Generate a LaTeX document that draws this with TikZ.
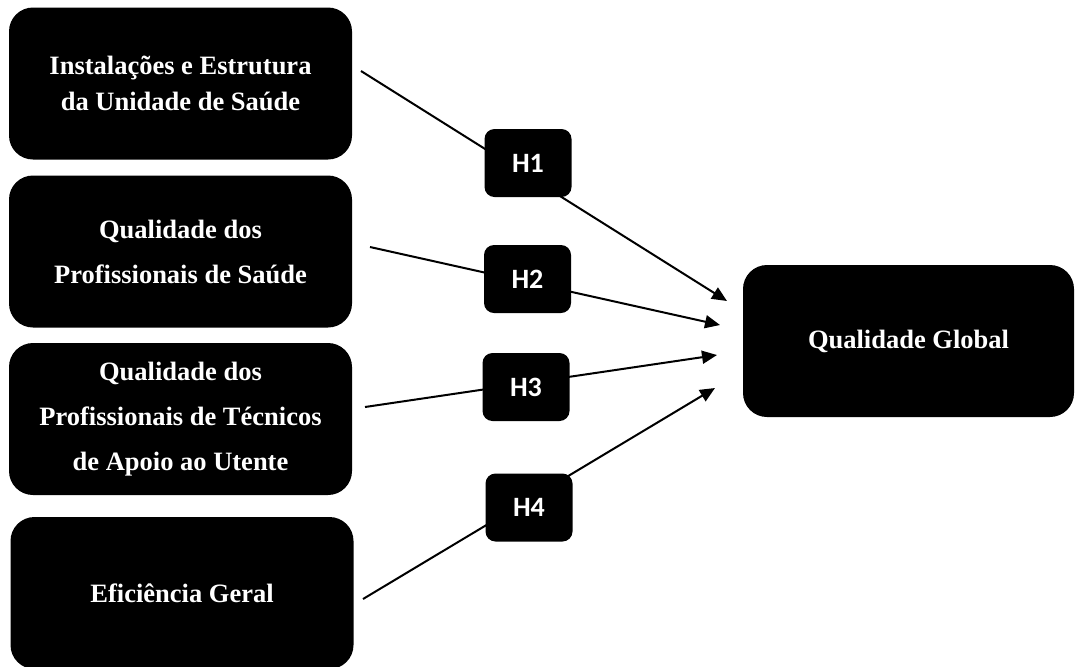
\documentclass[tikz,border=0pt]{standalone}
\usepackage{fontspec}
\setmainfont{Liberation Serif}
\newfontfamily\hfont{Carlito}
\usetikzlibrary{arrows.meta,positioning}
\tikzset{
  factor/.style={
    shape = rectangle,
    rounded corners = 12pt,
    fill = black,
    text = white,
    inner sep = 0pt,
    minimum width = 171.5pt,
    minimum height = 76pt,
    align = center,
    font = \bfseries\fontsize{13.25}{22.5}\selectfont
  },
  hyp/.style={
    shape = rectangle,
    rounded corners = 5pt,
    fill = black,
    text = white,
    inner sep = 0pt,
    minimum width = 43.5pt,
    minimum height = 34pt,
    font = \hfont\bfseries\fontsize{14}{16}\selectfont
  },
  link/.style={
    line width = 1pt,
    -{Triangle[length=7.5pt,width=6.5pt]}
  }
}

\begin{document}
\begin{tikzpicture}[x=0.5pt,y=-0.5pt]
    \useasboundingbox (0,0) rectangle (1075,666);
    % factors
    \node[factor, font=\bfseries\fontsize{13.25}{18}\selectfont] (inst) at (180.5,83.5)
        {Instalações e Estrutura\\da Unidade de Saúde};
    \node[factor] (prof) at (180.5,251.5) {Qualidade dos\\Profissionais de Saúde};
    \node[factor] (tec) at (180.5,419)
        {Qualidade dos\\Profissionais de Técnicos\\de Apoio ao Utente};
    \node[factor] (efic) at (182,593) {Eficiência Geral};
    \node[factor, minimum width=165.5pt] (glob) at (908.5,341) {Qualidade Global};
    % free ends of the arrows
    \coordinate (s1) at (361,71);  \coordinate (t1) at (727,301);
    \coordinate (s2) at (370,247); \coordinate (t2) at (720,325);
    \coordinate (s3) at (365,407); \coordinate (t3) at (717,355);
    \coordinate (s4) at (363,599); \coordinate (t4) at (715,388);
    \foreach \i in {1,...,4}
        \draw[link] (s\i) -- (t\i);
    % hypotheses
    \node[hyp] (h1) at (528,163) {H1};
    \node[hyp] (h2) at (527.5,279) {H2};
    \node[hyp] (h3) at (526,387) {H3};
    \node[hyp] (h4) at (529,507.5) {H4};
\end{tikzpicture}
\end{document}
